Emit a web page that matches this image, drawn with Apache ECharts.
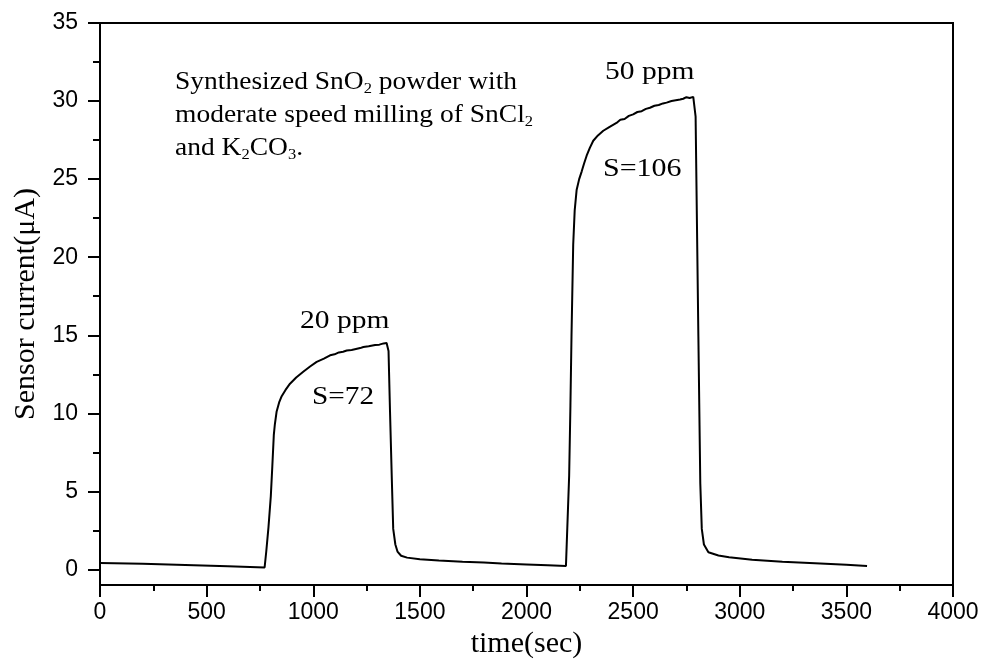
<!DOCTYPE html>
<html>
<head>
<meta charset="utf-8">
<script src="https://cdn.jsdelivr.net/npm/echarts@6/dist/echarts.min.js"></script>
<style>html,body{margin:0;padding:0;background:#fff;}#c{width:984px;height:664px;}</style>
</head>
<body>
<div id="c"></div>
<script>
// Baseline before first exposure
const base1Time = [0, 200, 400, 600, 772];
const base1Curr = [0.42, 0.36, 0.29, 0.21, 0.13];
// 20 ppm exposure
const pulse1Time = [780, 790, 801, 808, 815, 820, 828, 840, 852, 870, 891, 920, 953, 985, 1016, 1050, 1079, 1100, 1120, 1140, 1157, 1180, 1200, 1220, 1235, 1260, 1290, 1310, 1330, 1344, 1349];
const pulse1Curr = [1.2, 2.7, 4.7, 6.6, 8.6, 9.3, 10.1, 10.7, 11.1, 11.5, 11.9, 12.3, 12.66, 13.0, 13.3, 13.5, 13.72, 13.78, 13.9, 13.95, 14.02, 14.06, 14.12, 14.18, 14.25, 14.3, 14.38, 14.4, 14.48, 14.5, 14.55];
// recovery after 20 ppm
const rec1Time = [1353, 1360, 1368, 1375, 1385, 1395, 1412, 1440, 1500, 1589, 1700, 1800, 1883, 2000, 2100, 2185];
const rec1Curr = [14.0, 10.1, 6.0, 2.6, 1.6, 1.15, 0.88, 0.76, 0.66, 0.57, 0.5, 0.44, 0.38, 0.32, 0.27, 0.23];
// 50 ppm exposure
const pulse2Time = [2192, 2200, 2206, 2211, 2219, 2226, 2235, 2247, 2259, 2270, 2282, 2297, 2313, 2335, 2360, 2390, 2422, 2440, 2460, 2480, 2500, 2520, 2540, 2560, 2579, 2600, 2620, 2640, 2657, 2680, 2700, 2720, 2735, 2750, 2765, 2782, 2788];
const pulse2Curr = [0.25, 6.0, 10.5, 14.9, 20.8, 23.0, 24.3, 25.0, 25.5, 26.0, 26.5, 27.0, 27.46, 27.8, 28.1, 28.35, 28.6, 28.8, 28.85, 29.05, 29.15, 29.3, 29.35, 29.5, 29.57, 29.7, 29.75, 29.85, 29.9, 30.0, 30.05, 30.1, 30.15, 30.25, 30.2, 30.27, 30.3];
// recovery after 50 ppm
const rec2Time = [2793, 2806, 2815, 2822, 2832, 2853, 2900, 2950, 3058, 3200, 3353, 3500, 3597];
const rec2Curr = [29.0, 14.9, 5.5, 2.6, 1.6, 1.1, 0.9, 0.78, 0.62, 0.5, 0.4, 0.3, 0.23];

const yTickValues = [0, 5, 10, 15, 20, 25, 30, 35];
const yMinorTickValues = [2.5, 7.5, 12.5, 17.5, 22.5, 27.5, 32.5];

const timeSec = [].concat(base1Time, pulse1Time, rec1Time, pulse2Time, rec2Time);
const currentUA = [].concat(base1Curr, pulse1Curr, rec1Curr, pulse2Curr, rec2Curr);
const seriesData = timeSec.map((t, i) => [t, currentUA[i]]);

const serif = 'Liberation Serif';
const sans = 'Liberation Sans';

function richStyles() {
  return {
    n: {fontSize: 25, fontFamily: serif, lineHeight: 28, fill: '#000'},
    s: {fontSize: 15, fontFamily: serif, lineHeight: 2, verticalAlign: 'bottom', fill: '#000'}
  };
}
function richText(x, y, text, sx) {
  return {type: 'text', x: x, y: y, scaleX: sx, z: 100,
    style: {text: text, rich: richStyles(), fill: '#000', align: 'left', verticalAlign: 'middle',
            fontSize: 25, fontFamily: serif}};
}
function plainText(x, y, text, sx) {
  return {type: 'text', x: x, y: y, scaleX: sx, z: 100,
    style: {text: text, fill: '#000', align: 'left', verticalAlign: 'middle',
            fontSize: 25, fontFamily: serif}};
}

const chart = echarts.init(document.getElementById('c'), null, {renderer: 'canvas'});
chart.setOption({
  backgroundColor: '#fff',
  animation: false,
  grid: {left: 100, right: 31, top: 23, bottom: 72, show: true, borderColor: '#000', borderWidth: 2, backgroundColor: 'transparent'},
  xAxis: {
    type: 'value', min: 0, max: 4000, interval: 500,
    name: 'time(sec)', nameLocation: 'middle', nameGap: 38,
    nameTextStyle: {fontFamily: serif, fontSize: 30, color: '#000'},
    axisLine: {show: true, onZero: false, lineStyle: {color: '#000', width: 2}},
    axisTick: {show: true, length: 12, lineStyle: {color: '#000', width: 2}},
    minorTick: {show: true, splitNumber: 2, length: 6, lineStyle: {color: '#000', width: 2}},
    axisLabel: {fontFamily: sans, fontSize: 23, color: '#000', margin: 16, formatter: v => String(v)},
    splitLine: {show: false}, minorSplitLine: {show: false}
  },
  yAxis: [{
    type: 'value', min: -1, max: 35,
    name: 'Sensor current(\u03bcA)', nameLocation: 'middle', nameGap: 58,
    nameTextStyle: {fontFamily: serif, fontSize: 30, color: '#000'},
    axisLine: {show: true, onZero: false, lineStyle: {color: '#000', width: 2}},
    axisTick: {show: true, length: 12, customValues: yTickValues, lineStyle: {color: '#000', width: 2}},
    axisLabel: {fontFamily: sans, fontSize: 23, color: '#000', margin: 22, customValues: yTickValues, formatter: v => String(v)},
    splitLine: {show: false}
  }, {
    type: 'value', min: -1, max: 35, position: 'left',
    axisLine: {show: false},
    axisTick: {show: true, length: 7, customValues: yMinorTickValues, lineStyle: {color: '#000', width: 2}},
    axisLabel: {show: false},
    splitLine: {show: false}
  }],
  series: [{
    type: 'line', data: seriesData, yAxisIndex: 0,
    showSymbol: false, symbol: 'none', smooth: false,
    lineStyle: {color: '#000', width: 2}
  }],
  graphic: [
    richText(175, 82.6, '{n|Synthesized SnO}{s|2}{n| powder with}', 1.1),
    richText(175, 115.6, '{n|moderate speed milling of SnCl}{s|2}', 1.1),
    richText(175, 148.6, '{n|and K}{s|2}{n|CO}{s|3}{n|.}', 1.1),
    plainText(300, 321.6, '20 ppm', 1.18),
    plainText(312, 397, 'S=72', 1.17),
    plainText(605, 72.6, '50 ppm', 1.18),
    plainText(603, 169.6, 'S=106', 1.2)
  ]
});
</script>
</body>
</html>
